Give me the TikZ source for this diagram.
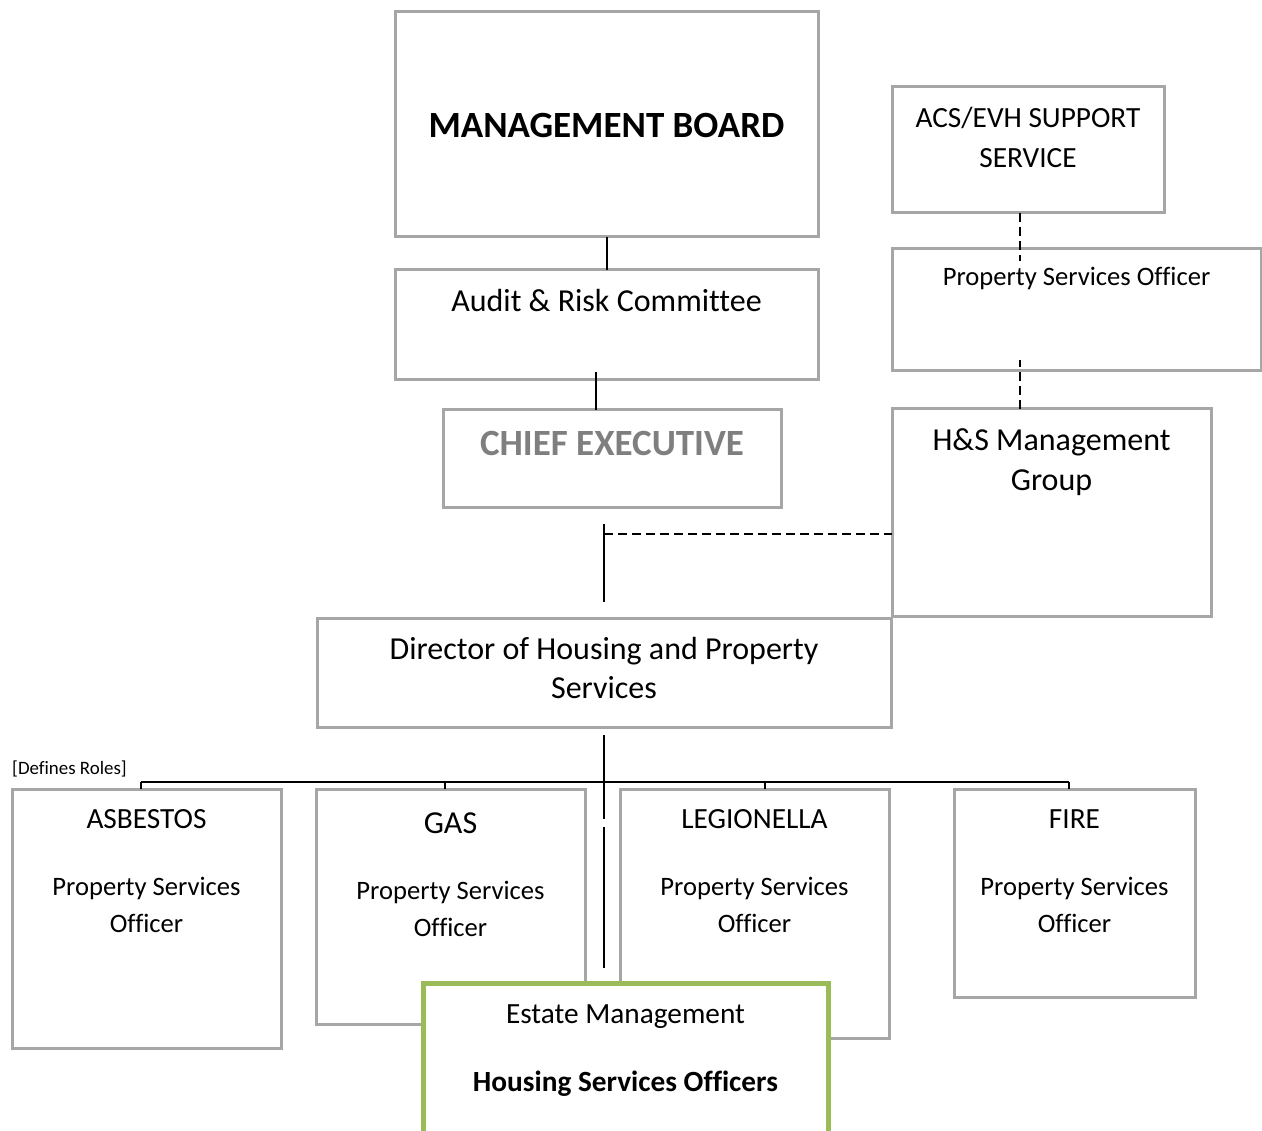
\documentclass[tikz,border=0pt]{standalone}
\usepackage{fontspec}
\setmainfont[Ligatures=NoCommon]{Carlito}
\definecolor{boxgray}{HTML}{A6A6A6}
\definecolor{cegray}{HTML}{7F7F7F}
\definecolor{estgreen}{HTML}{9BBB59}
\tikzset{
  box/.style 2 args={draw=boxgray,line width=3pt,minimum width=#1,minimum height=#2,inner sep=0pt,outer sep=0pt},
  lbl/.style={inner sep=0pt,anchor=base,align=center},
  link/.style={line width=2pt},
  dlink/.style={line width=2pt,dash pattern=on 9pt off 5pt}
}
\begin{document}
\begin{tikzpicture}[x=1pt,y=-1pt]
\clip (0,0) rectangle (1262,1131);
% top row (two-line labels sit on their last baseline)
\node[box={423pt}{225pt}] (mb) at (606.5,124.5) {};
\node[lbl,font=\fontsize{37}{44}\selectfont\bfseries] (mb-t) at (606.5,137.5) {MANAGEMENT BOARD};
\node[box={272pt}{126pt}] (acs) at (1028,150) {};
\node[lbl,font=\fontsize{29.3}{40}\selectfont] (acs-t) at (1028,168) {ACS/EVH SUPPORT\\SERVICE};
\node[box={423pt}{110pt}] (arc) at (606.5,325) {};
\node[lbl,font=\fontsize{32}{39}\selectfont] (arc-t) at (606.5,312) {Audit \& Risk Committee};
\node[box={369pt}{122pt}] (pso) at (1076.5,310) {};
\node[lbl,font=\fontsize{26.6}{38}\selectfont] (pso-t) at (1076.5,286) {Property Services Officer};
\node[box={338pt}{98pt}] (ce) at (612,459) {};
\node[lbl,font=\fontsize{37}{44}\selectfont\bfseries,text=cegray] (ce-t) at (612,456) {CHIEF EXECUTIVE};
\node[box={319pt}{207pt}] (hs) at (1051.5,512.5) {};
\node[lbl,font=\fontsize{32}{40}\selectfont] (hs-t) at (1051.5,491) {H\&S Management\\Group};
\node[box={574pt}{109pt}] (dir) at (604,672.5) {};
\node[lbl,font=\fontsize{32}{39}\selectfont] (dir-t) at (604,698) {Director of Housing and Property\\Services};
\node[lbl,anchor=base west,font=\fontsize{18.9}{22}\selectfont] (roles) at (12,774) {[Defines Roles]};
% links
\draw[link] (mb.south) -- (arc.north);
\draw[link] ([xshift=-16pt]ce.north) -- ++(0,-38);
\draw[dlink] ([xshift=-8pt]acs.south) -- ++(0,48);
\draw[dlink] ([xshift=-31.5pt]hs.north) -- ++(0,-49);
\draw[link] ([yshift=-16pt]ce.south -| dir.north) -- ([yshift=16pt]dir.north);
\coordinate (j) at ([yshift=-26pt]ce.south -| dir.north);
\draw[dlink] (j) -- (j -| hs.west);
% role boxes
\foreach \n/\x/\w/\h/\t/\fs/\b/\pb/\s in {
 asb/146.5/269/259/ASBESTOS/29.3/828/932/-6,
 gas/450.5/269/235/GAS/32/833/936/-6,
 leg/754.5/269/249/LEGIONELLA/29.3/828/932/10,
 fire/1074.5/241/208/FIRE/29.3/828/932/-6}{
\node[box={\w pt}{\h pt},anchor=north] (\n) at (\x,789) {};
\node[lbl,font=\fontsize{\fs}{36}\selectfont] (\n-t) at (\x,\b) {\t};
\node[lbl,font=\fontsize{26.6}{37}\selectfont] (\n-p) at (\x,\pb) {Property Services\\Officer};
\draw[link] ([xshift=\s pt]\n.north) -- ++(0,-7);
}
\draw[link] ([xshift=-6pt,yshift=7pt]asb.north) -- ([xshift=-6pt,yshift=7pt]fire.north);
% estate management
\node[draw=estgreen,line width=5pt,fill=white,minimum width=405pt,minimum height=200pt,inner sep=0pt] (est) at (625.5,1083) {};
\node[lbl,font=\fontsize{29.3}{36}\selectfont] (est-t) at (625.5,1023) {Estate Management};
\node[lbl,font=\fontsize{29.3}{36}\selectfont\bfseries] (est-h) at (625.5,1091) {Housing Services Officers};
\draw[link] ([yshift=-8pt]dir.south) -- ([yshift=-92pt]dir.south);
\draw[link] ([yshift=-100pt]dir.south) -- ([yshift=13pt]est.north -| dir.south);
\end{tikzpicture}
\end{document}
